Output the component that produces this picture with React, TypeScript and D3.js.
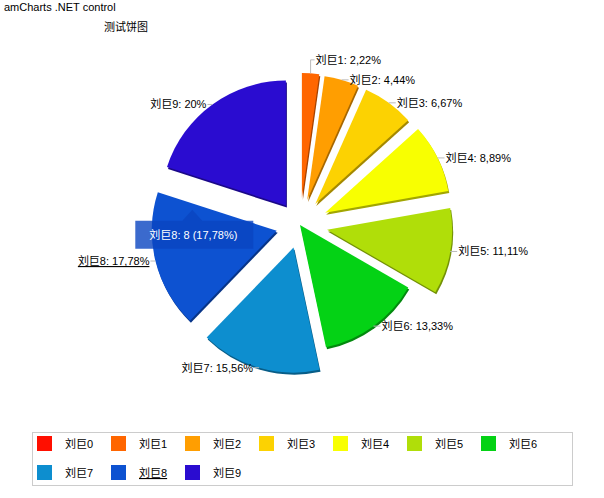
import * as d3 from 'd3';

const names = ['刘巨0', '刘巨1', '刘巨2', '刘巨3', '刘巨4', '刘巨5', '刘巨6', '刘巨7', '刘巨8', '刘巨9'];
const values = [0, 1, 2, 3, 4, 5, 6, 7, 8, 9];
// how far each slice is pulled out of the pie
const pullOut = [0, 27, 26, 26, 28, 27.5, 0, 23.5, 24, 24];
const colors = [
  '#FF0F00', '#FF6600', '#FF9E01', '#FCD202', '#F8FF01',
  '#B0DE09', '#04D215', '#0D8ECF', '#0D52D1', '#2A0CD0',
];
const hoveredIndex = 8;
const chartTitle = 'amCharts .NET control';
const pieTitle = '测试饼图';

const W = 604;
const H = 498;
const CX = 300;
const CY = 225;
const R = 125;
const FONT = "'Liberation Sans', Arial, 'Noto Sans CJK SC', sans-serif";

const total = d3.sum(values);
const fmtPct = (v: number) => {
  const p = (v / total) * 100;
  return p.toFixed(2).replace(/\.?0+$/, '').replace('.', ',');
};

export default function App() {
  const pie = d3
    .pie<number>()
    .sort(null)
    .value((d) => d)
    .startAngle(0)
    .endAngle(Math.PI * 2);
  const arcs = pie(values);
  const arcGen = d3.arc<d3.PieArcDatum<number>>().innerRadius(0).outerRadius(R);

  const slices = arcs.map((a, i) => {
    const mid = (a.startAngle + a.endAngle) / 2;
    const [ox, oy] = d3.pointRadial(mid, pullOut[i]);
    const [ex, ey] = d3.pointRadial(mid, R);
    const right = Math.sin(mid) >= 0;
    return {
      i,
      a,
      mid,
      ox,
      oy,
      edge: [CX + ox + ex, CY + oy + ey] as [number, number],
      labelX: CX + ox + ex + (right ? 8 : -6),
      labelY: CY + oy + ey,
      right,
    };
  });

  const visible = slices.filter((s) => values[s.i] > 0);

  // simple overlap resolution per side, walking upward
  [true, false].forEach((side) => {
    const list = visible.filter((s) => s.right === side).sort((p, q) => q.labelY - p.labelY);
    for (let k = 1; k < list.length; k++) {
      const below = list[k - 1];
      const cur = list[k];
      if (cur.labelY > below.labelY - 20) {
        cur.labelY = below.labelY - 20;
        cur.labelX = cur.edge[0] + (side ? 5 : -5);
      }
    }
  });

  // balloon for the hovered slice
  const hs = slices[hoveredIndex];
  const [mx, my] = d3.pointRadial((284 * Math.PI) / 180, 87);
  const tipX = CX + hs.ox + mx;
  const tipY = CY + hs.oy + my;
  const balloonText = `${names[hoveredIndex]}: ${values[hoveredIndex]} (${fmtPct(values[hoveredIndex])}%)`;
  const bw = 118;
  const bh = 28;
  const bx = tipX - 57;
  const by = tipY + 11;

  // legend layout
  const perRow = 7;
  const legendX = 37;
  const legendY = 436;
  const colW = 74;
  const rowH = 29;

  return (
    <svg
      width={W}
      height={H}
      style={{ position: 'absolute', left: 0, top: 0, display: 'block', background: '#fff' }}
      fontFamily={FONT}
      fontSize={11}
    >
      <text x={4} y={11} fill="#000">
        {chartTitle}
      </text>
      <text x={104} y={31} fill="#000">
        {pieTitle}
      </text>

      {visible.map((s) => {
        const c = d3.color(colors[s.i])!;
        return (
          <g key={s.i} transform={`translate(${CX + s.ox},${CY + s.oy})`}>
            <path
              d={arcGen(s.a) ?? ''}
              fill={c.darker(1.2).toString()}
              transform="translate(1,2)"
            />
            <path d={arcGen(s.a) ?? ''} fill={colors[s.i]} />
          </g>
        );
      })}

      {visible.map((s) => {
        const txt = `${names[s.i]}: ${fmtPct(values[s.i])}%`;
        const endX = s.right ? s.labelX - 1 : s.labelX + 1;
        const pts: [number, number][] = [
          s.edge,
          [s.edge[0], s.labelY],
          [endX, s.labelY],
        ];
        return (
          <g key={s.i}>
            <polyline
              points={pts.map((p) => p.join(',')).join(' ')}
              fill="none"
              stroke="#bbb"
              strokeWidth={1}
            />
            <text
              x={s.labelX}
              y={s.labelY + 4}
              textAnchor={s.right ? 'start' : 'end'}
              fill="#000"
              textDecoration={s.i === hoveredIndex ? 'underline' : undefined}
            >
              {txt}
            </text>
          </g>
        );
      })}

      <g opacity={0.8}>
        <path
          d={`M${bx},${by}H${tipX - 10}L${tipX},${tipY}L${tipX + 10},${by}H${bx + bw}V${by + bh}H${bx}Z`}
          fill="#0A45C0"
        />
      </g>
      <text x={bx + 14} y={by + bh / 2 + 4} fill="#fff">
        {balloonText}
      </text>

      <rect x={32.5} y={432.5} width={540} height={53} fill="#fff" stroke="#ccc" />
      {names.map((n, i) => {
        const x = legendX + (i % perRow) * colW;
        const y = legendY + Math.floor(i / perRow) * rowH;
        return (
          <g key={n}>
            <rect x={x} y={y} width={15} height={15} fill={colors[i]} />
            <text
              x={x + 28}
              y={y + 12}
              fill="#000"
              textDecoration={i === hoveredIndex ? 'underline' : undefined}
            >
              {n}
            </text>
          </g>
        );
      })}
    </svg>
  );
}
